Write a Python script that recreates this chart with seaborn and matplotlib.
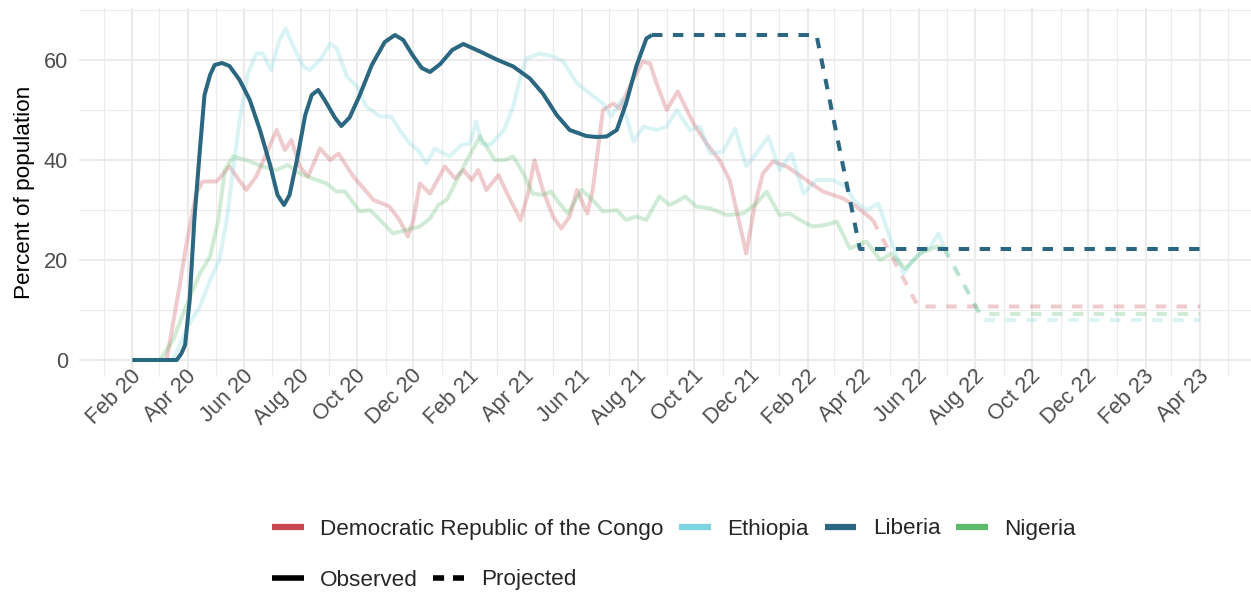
import numpy as np
import pandas as pd
import matplotlib
matplotlib.use("Agg")
import matplotlib.pyplot as plt
import matplotlib.dates as mdates
import matplotlib.transforms as mtransforms
from matplotlib.lines import Line2D
from matplotlib.ticker import MultipleLocator, FixedLocator
import seaborn as sns

# ---------------- data ----------------
countries = ["Democratic Republic of the Congo", "Ethiopia", "Liberia", "Nigeria"]
country_colors = ["#C9474F", "#7DD4DE", "#2B6781", "#5CBC6C"]
type_labels = ["Observed", "Projected"]

drc_obs_dates = [
    "2020-02-01", "2020-03-09", "2020-03-23", "2020-03-30", "2020-04-10", "2020-04-17",
    "2020-05-02", "2020-05-16", "2020-06-03", "2020-06-14", "2020-06-25", "2020-07-06",
    "2020-07-15", "2020-07-22", "2020-07-31", "2020-08-09", "2020-08-22", "2020-09-02",
    "2020-09-11", "2020-09-27", "2020-10-19", "2020-11-05", "2020-11-16", "2020-11-25",
    "2020-12-01", "2020-12-08", "2020-12-19", "2021-01-04", "2021-01-15", "2021-01-24",
    "2021-02-02", "2021-02-09", "2021-02-18", "2021-03-03", "2021-03-14", "2021-03-27",
    "2021-04-04", "2021-04-11", "2021-04-20", "2021-05-01", "2021-05-10", "2021-05-19",
    "2021-05-27", "2021-06-07", "2021-06-13", "2021-06-24", "2021-07-05", "2021-07-12",
    "2021-07-23", "2021-08-06", "2021-08-14", "2021-08-21", "2021-09-01", "2021-09-13",
    "2021-09-30", "2021-10-14", "2021-10-28", "2021-11-08", "2021-11-17", "2021-11-26",
    "2021-12-05", "2021-12-14", "2021-12-25", "2022-01-09", "2022-01-30", "2022-02-17",
    "2022-03-11", "2022-03-25", "2022-04-12"]
drc_obs_values = [
    0, 0, 14.7, 22.7, 33.3, 35.7,
    35.7, 38.7, 34.0, 36.7, 41.3, 46.0,
    42.0, 44.0, 38.7, 36.7, 42.3, 40.0,
    41.3, 36.7, 32.0, 30.7, 28.0, 24.7,
    28.0, 35.3, 33.3, 38.7, 36.3, 38.0,
    36.0, 38.0, 34.0, 37.0, 32.7, 28.0,
    33.3, 40.0, 34.0, 28.7, 26.3, 28.7,
    34.0, 29.3, 34.0, 50.0, 51.3, 50.3,
    54.7, 59.7, 59.3, 55.3, 50.0, 53.7,
    47.3, 43.3, 40.0, 36.0, 28.7, 21.3,
    30.7, 37.3, 39.7, 38.7, 36.0, 33.7,
    32.3, 30.7, 28.0]
drc_proj_dates = ["2022-04-12", "2022-05-31", "2023-04-01"]
drc_proj_values = [28.0, 10.7, 10.7]

eth_obs_dates = [
    "2020-02-01", "2020-03-16", "2020-04-01", "2020-04-14", "2020-04-25", "2020-05-05",
    "2020-05-13", "2020-05-20", "2020-05-27", "2020-06-05", "2020-06-14", "2020-06-21",
    "2020-06-30", "2020-07-09", "2020-07-16", "2020-07-24", "2020-08-04", "2020-08-11",
    "2020-08-22", "2020-09-02", "2020-09-09", "2020-09-20", "2020-10-01", "2020-10-11",
    "2020-10-26", "2020-11-07", "2020-11-16", "2020-11-27", "2020-12-06", "2020-12-15",
    "2020-12-24", "2021-01-09", "2021-01-22", "2021-01-31", "2021-02-07", "2021-02-13",
    "2021-02-22", "2021-03-09", "2021-03-19", "2021-03-27", "2021-04-02", "2021-04-17",
    "2021-05-01", "2021-05-12", "2021-05-27", "2021-06-10", "2021-06-24", "2021-07-03",
    "2021-07-14", "2021-07-27", "2021-08-07", "2021-08-21", "2021-09-01", "2021-09-12",
    "2021-09-26", "2021-10-07", "2021-10-18", "2021-11-01", "2021-11-14", "2021-11-26",
    "2021-12-07", "2021-12-20", "2022-01-01", "2022-01-14", "2022-01-27", "2022-02-10",
    "2022-02-28", "2022-03-15", "2022-03-22", "2022-04-05", "2022-04-18", "2022-04-30",
    "2022-05-15", "2022-05-29", "2022-06-13", "2022-06-22", "2022-06-28"]
eth_obs_values = [
    0, 0, 6.7, 10.7, 16.0, 20.0,
    28.0, 38.0, 48.0, 57.3, 61.3, 61.3,
    58.0, 64.0, 66.3, 62.7, 58.7, 58.0,
    60.0, 63.3, 62.3, 56.7, 54.7, 50.7,
    48.7, 48.7, 46.0, 43.3, 42.0, 39.3,
    42.3, 40.7, 43.0, 43.3, 47.7, 43.3,
    43.0, 46.0, 50.7, 56.7, 60.3, 61.3,
    60.7, 59.7, 55.3, 53.3, 51.3, 48.7,
    52.0, 43.7, 46.7, 46.0, 46.7, 50.0,
    46.0, 46.7, 41.3, 41.7, 46.3, 38.7,
    41.3, 44.7, 38.0, 41.3, 33.3, 36.0,
    36.0, 34.5, 32.0, 30.0, 31.3, 24.7,
    17.3, 20.7, 22.7, 25.3, 22.5]
eth_proj_dates = ["2022-06-28", "2022-08-09", "2023-04-01"]
eth_proj_values = [22.5, 8.0, 8.0]

lib_obs_dates = [
    "2020-02-01", "2020-03-20", "2020-03-25", "2020-03-29", "2020-04-03", "2020-04-08",
    "2020-04-14", "2020-04-19", "2020-04-25", "2020-04-30", "2020-05-08", "2020-05-16",
    "2020-05-27", "2020-06-07", "2020-06-18", "2020-06-29", "2020-07-07", "2020-07-14",
    "2020-07-20", "2020-07-28", "2020-08-06", "2020-08-13", "2020-08-20", "2020-08-27",
    "2020-09-07", "2020-09-14", "2020-09-23", "2020-10-04", "2020-10-17", "2020-10-31",
    "2020-11-11", "2020-11-20", "2020-11-30", "2020-12-10", "2020-12-19", "2020-12-30",
    "2021-01-12", "2021-01-24", "2021-02-11", "2021-03-01", "2021-03-19", "2021-04-06",
    "2021-04-20", "2021-05-05", "2021-05-19", "2021-06-06", "2021-06-17", "2021-06-28",
    "2021-07-09", "2021-07-19", "2021-07-30", "2021-08-10", "2021-08-16"]
lib_obs_values = [
    0, 0, 1.3, 3.0, 12.0, 28.0,
    42.0, 53.0, 57.0, 59.0, 59.4, 58.8,
    56.0, 52.0, 46.0, 39.0, 33.0, 31.0,
    33.0, 40.0, 49.0, 53.0, 54.0, 52.0,
    48.5, 46.8, 48.5, 53.0, 59.0, 63.6,
    65.0, 64.0, 61.0, 58.4, 57.6, 59.2,
    62.0, 63.2, 61.7, 60.1, 58.7, 56.3,
    53.3, 49.0, 46.0, 44.8, 44.6, 44.7,
    46.0, 51.3, 58.7, 64.3, 65.0]
lib_proj_dates = ["2021-08-16", "2022-02-10", "2022-03-29", "2023-04-01"]
lib_proj_values = [65.0, 65.0, 22.2, 22.2]

nga_obs_dates = [
    "2020-02-01", "2020-03-02", "2020-03-16", "2020-03-30", "2020-04-14", "2020-04-25",
    "2020-05-04", "2020-05-11", "2020-05-20", "2020-06-03", "2020-06-21", "2020-07-06",
    "2020-07-18", "2020-07-31", "2020-08-14", "2020-08-29", "2020-09-09", "2020-09-18",
    "2020-10-04", "2020-10-15", "2020-10-26", "2020-11-09", "2020-11-23", "2020-12-08",
    "2020-12-19", "2020-12-28", "2021-01-06", "2021-01-17", "2021-01-28", "2021-02-11",
    "2021-02-18", "2021-02-27", "2021-03-10", "2021-03-19", "2021-03-30", "2021-04-09",
    "2021-04-20", "2021-04-29", "2021-05-08", "2021-05-17", "2021-06-01", "2021-06-13",
    "2021-06-24", "2021-07-09", "2021-07-19", "2021-07-30", "2021-08-10", "2021-08-24",
    "2021-09-04", "2021-09-15", "2021-09-21", "2021-10-03", "2021-10-18", "2021-11-05",
    "2021-11-23", "2021-12-07", "2021-12-18", "2022-01-01", "2022-01-12", "2022-01-23",
    "2022-02-06", "2022-02-20", "2022-03-04", "2022-03-18", "2022-04-05", "2022-04-20",
    "2022-05-02", "2022-05-17", "2022-06-02", "2022-06-20", "2022-06-28"]
nga_obs_values = [
    0, 0, 4.0, 10.7, 17.3, 20.7,
    28.0, 38.0, 40.7, 40.0, 38.7, 38.0,
    39.0, 37.3, 36.3, 35.3, 33.7, 33.7,
    29.7, 30.0, 28.0, 25.3, 26.0, 26.7,
    28.3, 31.0, 32.0, 36.0, 40.0, 44.7,
    42.7, 40.0, 40.0, 40.7, 37.3, 33.3,
    33.0, 33.7, 31.3, 29.3, 34.0, 32.0,
    29.7, 30.0, 28.0, 28.7, 28.0, 32.7,
    31.0, 32.0, 32.7, 30.7, 30.3, 29.0,
    29.3, 31.3, 33.7, 29.0, 29.3, 28.0,
    26.7, 27.0, 27.7, 22.3, 23.7, 20.0,
    21.3, 18.3, 21.3, 22.7, 22.3]
nga_proj_dates = ["2022-06-28", "2022-08-06", "2023-04-01"]
nga_proj_values = [22.3, 9.2, 9.2]

y_ticks = [0, 20, 40, 60]
y_label = "Percent of population"

# ---------------- assemble long table ----------------
series = {
    countries[0]: (drc_obs_dates, drc_obs_values, drc_proj_dates, drc_proj_values),
    countries[1]: (eth_obs_dates, eth_obs_values, eth_proj_dates, eth_proj_values),
    countries[2]: (lib_obs_dates, lib_obs_values, lib_proj_dates, lib_proj_values),
    countries[3]: (nga_obs_dates, nga_obs_values, nga_proj_dates, nga_proj_values),
}
frames = []
for c, (od, ov, pd_, pv) in series.items():
    frames.append(pd.DataFrame({"country": c, "type": "Observed",
                                "date": pd.to_datetime(od), "value": ov}))
    frames.append(pd.DataFrame({"country": c, "type": "Projected",
                                "date": pd.to_datetime(pd_), "value": pv}))
df = pd.concat(frames, ignore_index=True)

# ---------------- style ----------------
sns.set_theme(style="white")
plt.rcParams["font.family"] = ["Liberation Sans", "DejaVu Sans"]

W, H = 1251, 595
fig = plt.figure(figsize=(W / 100, H / 100), dpi=100)
ax = fig.add_axes([79 / W, (H - 376.75) / H, (1253.4 - 78.9) / W, (376.75 - 8.25) / H])
ax.set_facecolor("white")

color_map = dict(zip(countries, country_colors))
alpha_map = {countries[0]: 0.28, countries[1]: 0.28, countries[2]: 1.0, countries[3]: 0.28}
draw_order = [countries[0], countries[1], countries[3], countries[2]]

for c in draw_order:
    sub = df[df["country"] == c]
    sns.lineplot(data=sub, x="date", y="value", style="type",
                 style_order=type_labels,
                 dashes={"Observed": "", "Projected": (2.6, 2.6)},
                 color=color_map[c], alpha=alpha_map[c], linewidth=2.9,
                 estimator=None, legend=False, ax=ax,
                 solid_capstyle="butt", dash_capstyle="butt",
                 solid_joinstyle="round")

# axes limits (ggplot-like 5% expansion)
dmin, dmax = mdates.date2num(df["date"].min()), mdates.date2num(df["date"].max())
dx = (dmax - dmin) * 0.05
ax.set_xlim(dmin - dx, dmax + dx)
vmin, vmax = df["value"].min(), df["value"].max()
vmax = max(vmax, 67.0)
dy = (vmax - vmin) * 0.05
ax.set_ylim(vmin - dy, vmax + dy)

# ticks and grid
ax.xaxis.set_major_locator(mdates.MonthLocator(bymonth=[2, 4, 6, 8, 10, 12]))
ax.xaxis.set_major_formatter(mdates.DateFormatter("%b %y"))
ax.xaxis.set_minor_locator(mdates.MonthLocator())
ax.yaxis.set_major_locator(FixedLocator(y_ticks))
ax.yaxis.set_minor_locator(MultipleLocator(10))

ax.grid(which="major", color="#EBEBEB", linewidth=1.5)
ax.grid(which="minor", color="#EBEBEB", linewidth=0.8)
ax.set_axisbelow(True)
for s in ax.spines.values():
    s.set_visible(False)

ax.tick_params(axis="both", which="both", length=0)
ax.tick_params(axis="y", labelsize=15.7, labelcolor="#4D4D4D", pad=8)
ax.tick_params(axis="x", labelsize=15.7, labelcolor="#4D4D4D", pad=2)
offset = mtransforms.ScaledTranslation(-2 / 100, 14 / 100, fig.dpi_scale_trans)
for lab in ax.get_xticklabels():
    lab.set_rotation(45)
    lab.set_ha("right")
    lab.set_va("top")
    lab.set_rotation_mode("anchor")
    lab.set_transform(lab.get_transform() + offset)

ax.set_xlabel("")
ax.set_ylabel(y_label, fontsize=16.2, color="black")
ax.yaxis.set_label_coords((35 - 79) / (1253.4 - 78.9), 0.5)

# ---------------- legends ----------------
col_handles = [Line2D([0], [0], color=col, lw=4.5, solid_capstyle="butt") for col in country_colors]
leg1 = fig.legend(col_handles, countries, loc="center left",
                  bbox_to_anchor=(272 / W, (H - 529) / H), ncol=4, frameon=False,
                  fontsize=16.2, handlelength=1.4, handletextpad=0.74,
                  columnspacing=0.7, borderaxespad=0, borderpad=0)
type_handles = [Line2D([0], [0], color="black", lw=4.0, solid_capstyle="butt"),
                Line2D([0], [0], color="black", lw=4.0, dashes=(2.0, 1.6), dash_capstyle="butt")]
leg2 = fig.legend(type_handles, type_labels, loc="center left",
                  bbox_to_anchor=(272 / W, (H - 580) / H), ncol=2, frameon=False,
                  fontsize=16.2, handlelength=1.4, handletextpad=0.74,
                  columnspacing=0.65, borderaxespad=0, borderpad=0)

fig.savefig("out.png", dpi=100, facecolor="white")
